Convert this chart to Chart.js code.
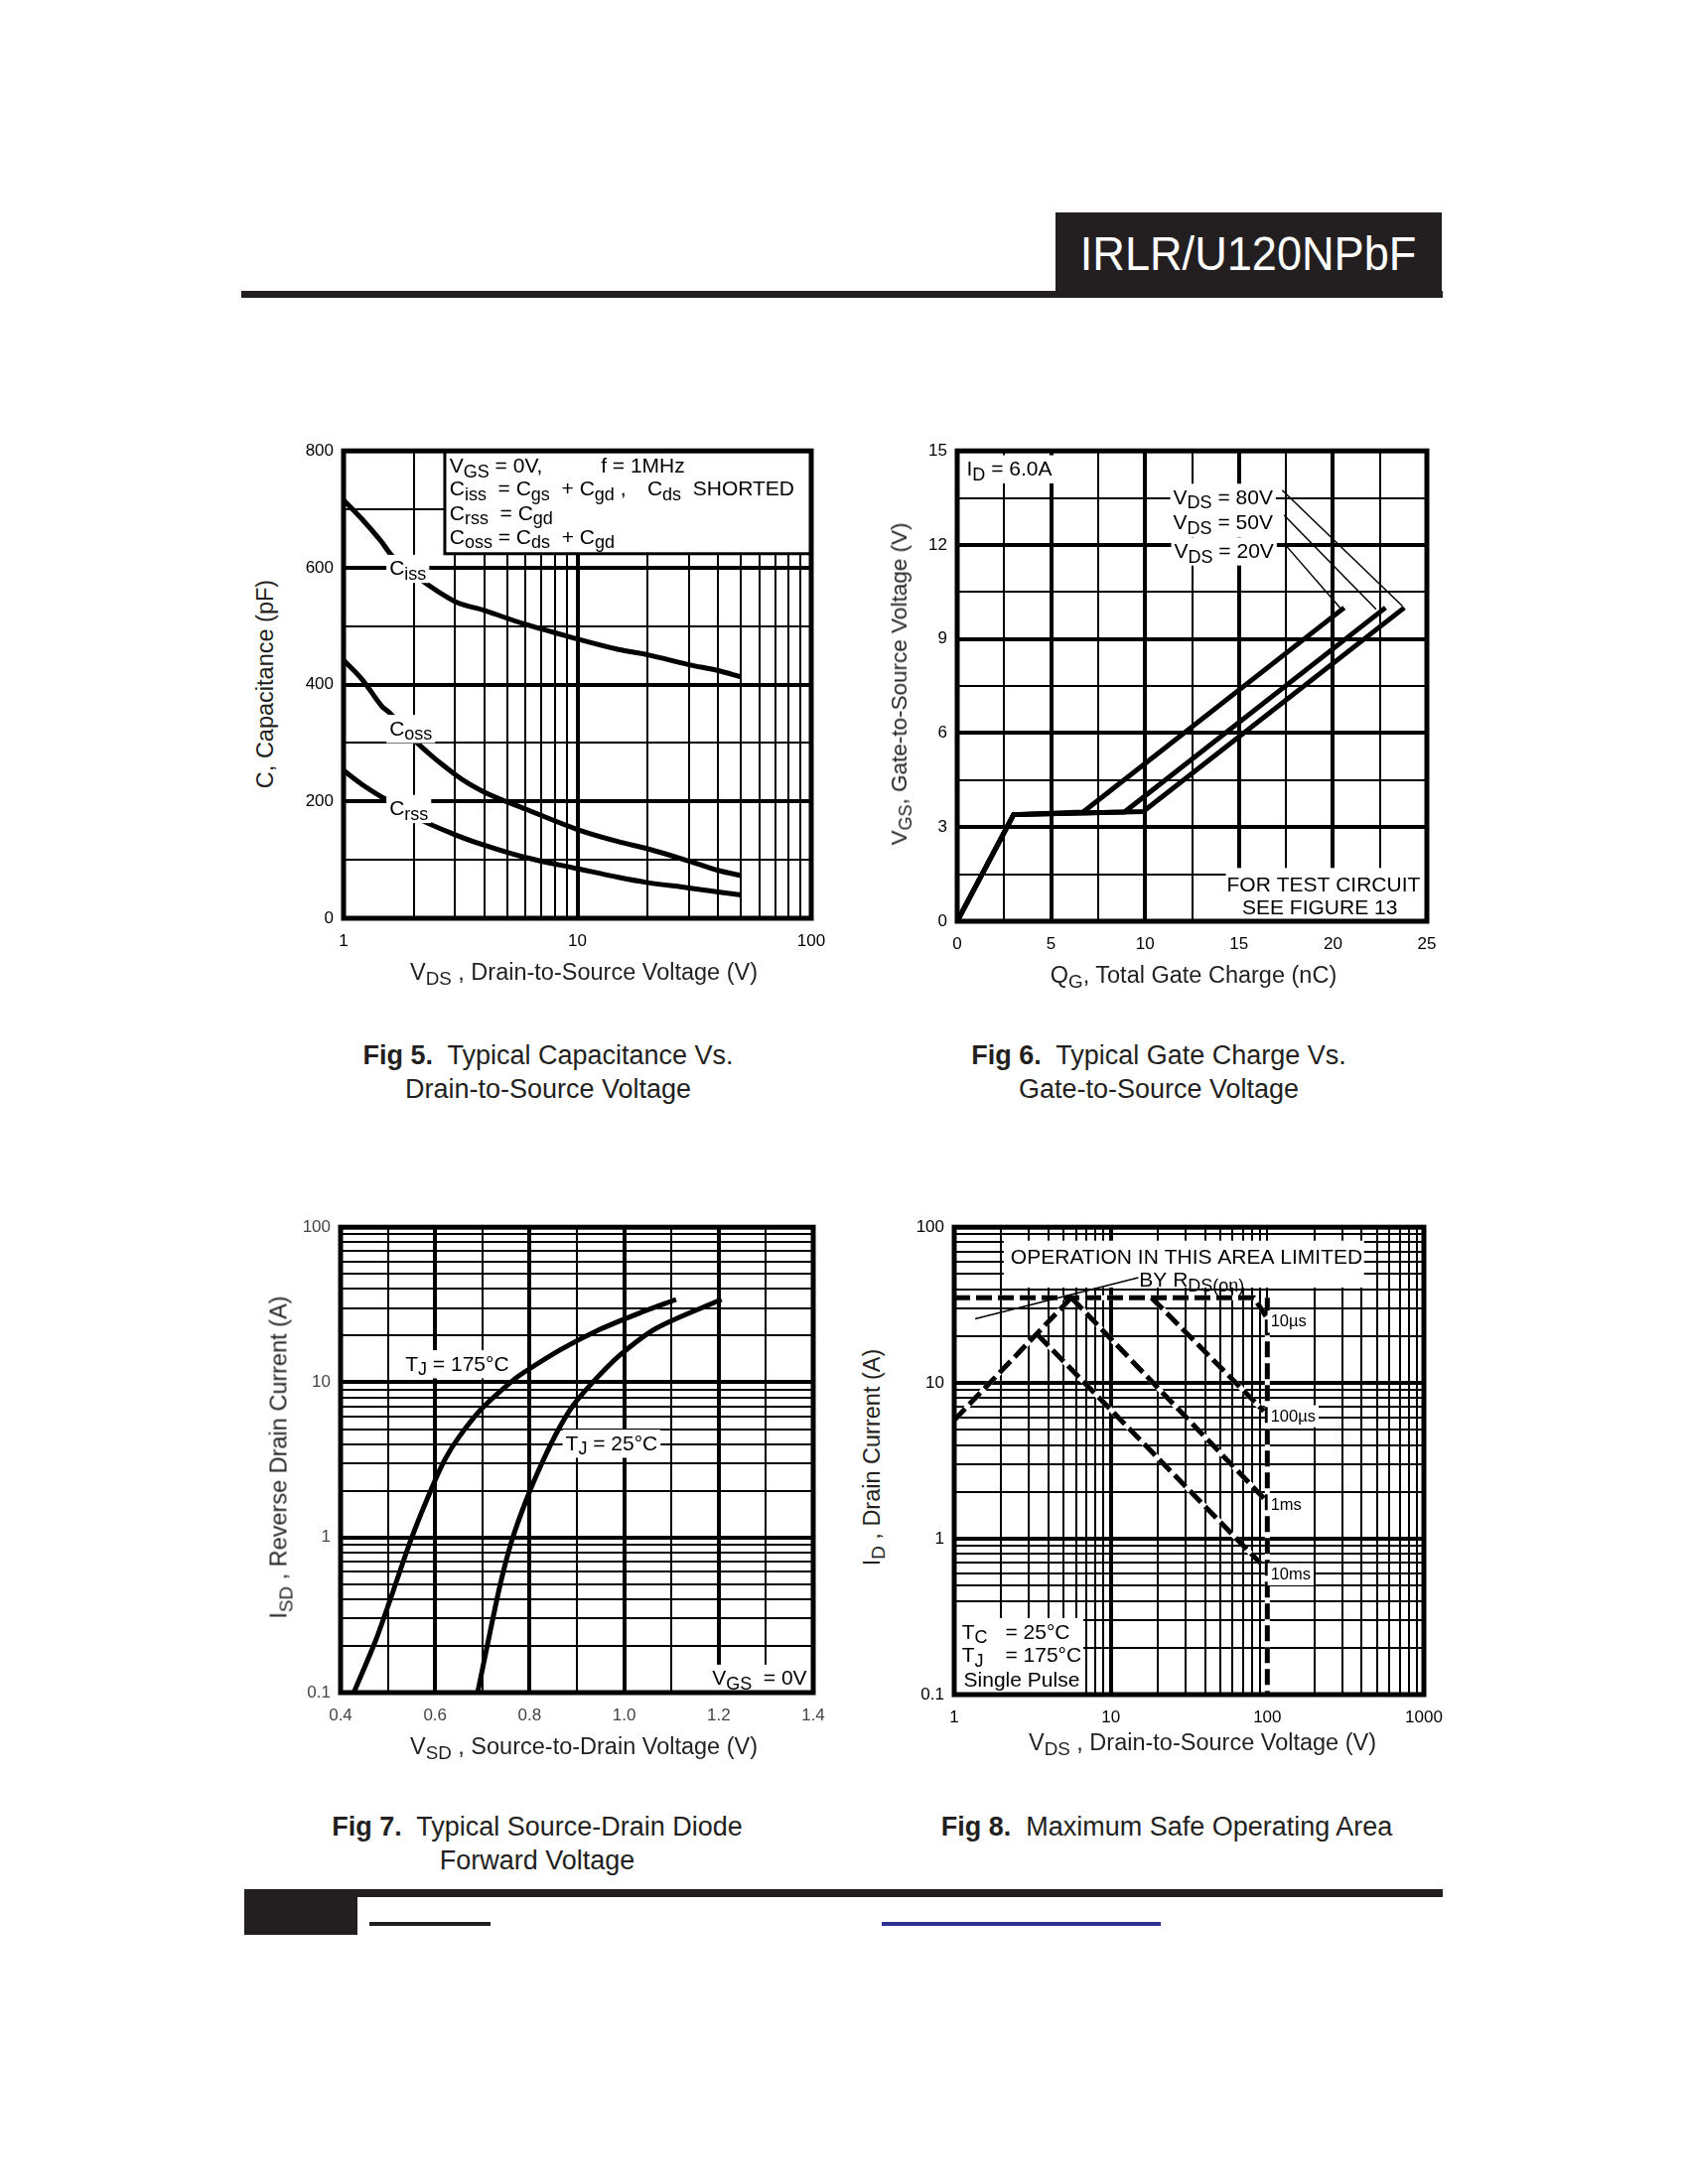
<!DOCTYPE html>
<html>
<head>
<meta charset="utf-8">
<script src="https://cdn.jsdelivr.net/npm/chart.js@4.4.1/dist/chart.umd.min.js"></script>
<style>
body { margin:0; width:1700px; height:2200px; background:#fff; position:relative; overflow:hidden;
       font-family:"Liberation Sans", Arial, sans-serif; color:#231f20; }
.abs { position:absolute; }
canvas { position:absolute; }
.cap { position:absolute; font-size:27px; line-height:34px; text-align:center; white-space:nowrap; transform:translateX(-50%); }
.ttl { position:absolute; font-size:23.5px; white-space:nowrap; transform:translate(-50%,-50%); }
.ttl.rot { transform:translate(-50%,-50%) rotate(-90deg); }
sub { font-size:80%; vertical-align:-0.3em; line-height:0; }
</style>
</head>
<body>

<div class="abs" style="left:1063px;top:214px;width:389px;height:83px;background:#231f20;color:#fff;
  font-size:48px;line-height:83px;text-align:center"><span style="display:inline-block;transform:scaleX(0.94)">IRLR/U120NPbF</span></div>
<div class="abs" style="left:243px;top:293px;width:1210px;height:7px;background:#231f20"></div>

<canvas id="fig5"></canvas>
<canvas id="fig6"></canvas>
<canvas id="fig7"></canvas>
<canvas id="fig8"></canvas>

<div class="ttl rot" style="left:267px;top:689px">C, Capacitance (pF)</div>
<div class="ttl" style="left:588px;top:979px">V<sub>DS</sub> , Drain-to-Source Voltage (V)</div>
<div class="ttl rot" style="left:906px;top:689px;font-size:22.5px">V<sub>GS</sub>, Gate-to-Source Voltage (V)</div>
<div class="ttl" style="left:1202px;top:982px">Q<sub>G</sub>, Total Gate Charge (nC)</div>
<div class="ttl rot" style="left:281px;top:1468px">I<sub>SD</sub> , Reverse Drain Current (A)</div>
<div class="ttl" style="left:588px;top:1759px">V<sub>SD</sub> , Source-to-Drain Voltage (V)</div>
<div class="ttl rot" style="left:878px;top:1468px">I<sub>D</sub> , Drain Current (A)</div>
<div class="ttl" style="left:1211px;top:1755px">V<sub>DS</sub> , Drain-to-Source Voltage (V)</div>

<div class="cap" style="left:552px;top:1046px"><b>Fig 5.</b>&nbsp; Typical Capacitance Vs.<br>Drain-to-Source Voltage</div>
<div class="cap" style="left:1167px;top:1046px"><b>Fig 6.</b>&nbsp; Typical Gate Charge Vs.<br>Gate-to-Source Voltage</div>
<div class="cap" style="left:541px;top:1823px"><b>Fig 7.</b>&nbsp; Typical Source-Drain Diode<br>Forward Voltage</div>
<div class="cap" style="left:1175px;top:1823px"><b>Fig 8.</b>&nbsp; Maximum Safe Operating Area</div>

<div class="abs" style="left:246px;top:1903px;width:1207px;height:8px;background:#231f20"></div>
<div class="abs" style="left:246px;top:1908px;width:114px;height:41px;background:#231f20"></div>
<div class="abs" style="left:372px;top:1936px;width:122px;height:4px;background:#231f20"></div>
<div class="abs" style="left:888px;top:1936px;width:281px;height:4px;background:#2e3192"></div>

<script>
const FONT = '"Liberation Sans", Arial, sans-serif'

// Fig 5: capacitance vs VDS
const capV = [1, 1.2, 1.45, 1.6, 2, 3, 4, 6, 10, 15, 20, 30, 40, 50]
const ciss = [716, 683, 645, 622, 588, 542, 527, 503, 478, 460, 451, 434, 424, 413]
const coss = [442, 409, 364, 349, 305, 246, 216, 187, 152, 131, 119, 98, 82, 73]
const crss = [253, 229, 208, 199, 174, 143, 125, 104, 85, 70, 61, 52, 45, 40]
const capXGrid = [1, 2, 3, 4, 5, 6, 7, 8, 9, 10, 20, 30, 40, 50, 60, 70, 80, 90, 100]
const capXLabels = ['1', '10', '100']
const capYGrid = [0, 100, 200, 300, 400, 500, 600, 700, 800]
const capYLabels = ['0', '200', '400', '600', '800']

// Fig 6: gate charge
const qg20 = [0, 3.0, 6.7, 20.6]
const vg20 = [0, 3.4, 3.48, 10]
const qg50 = [0, 3.0, 8.9, 22.8]
const vg50 = [0, 3.4, 3.48, 10]
const qg80 = [0, 3.0, 9.9, 23.8]
const vg80 = [0, 3.4, 3.5, 10]
const qgXGrid = [0, 2.5, 5, 7.5, 10, 12.5, 15, 17.5, 20, 22.5, 25]
const qgXLabels = ['0', '5', '10', '15', '20', '25']
const qgYGrid = [0, 1.5, 3, 4.5, 6, 7.5, 9, 10.5, 12, 13.5, 15]
const qgYLabels = ['0', '3', '6', '9', '12', '15']

// Fig 7: diode forward voltage
const vsd175 = [0.428, 0.473, 0.505, 0.549, 0.594, 0.622, 0.65, 0.698, 0.763, 0.795, 0.868, 0.948, 1.029, 1.11]
const isd175 = [0.1, 0.212, 0.397, 0.97, 2.12, 3.23, 4.42, 6.73, 10.2, 11.97, 16.4, 21.9, 27.7, 34.2]
const vsd25 = [0.69, 0.715, 0.739, 0.763, 0.795, 0.827, 0.86, 0.892, 0.936, 0.989, 1.069, 1.206]
const isd25 = [0.1, 0.235, 0.516, 0.97, 1.81, 3.06, 4.91, 7.1, 10.2, 14.8, 22.4, 34.2]
const vsdXGrid = [0.4, 0.5, 0.6, 0.7, 0.8, 0.9, 1.0, 1.1, 1.2, 1.3, 1.4]
const vsdXLabels = ['0.4', '0.6', '0.8', '1.0', '1.2', '1.4']
const logYGrid = [0.1, 0.2, 0.3, 0.4, 0.5, 0.6, 0.7, 0.8, 0.9, 1, 2, 3, 4, 5, 6, 7, 8, 9, 10, 20, 30, 40, 50, 60, 70, 80, 90, 100]
const logYLabels = ['0.1', '1', '10', '100']

// Fig 8: safe operating area
const limitX = [1, 82, 100]
const limitY = [35.3, 35.3, 26]
const rdsX = [1, 5.6]
const rdsY = [5.78, 35.3]
const us100X = [18.2, 95]
const us100Y = [35.3, 6.6]
const ms1X = [5.6, 95]
const ms1Y = [35.3, 1.82]
const ms10X = [3.4, 90]
const ms10Y = [20.5, 0.7]
const bvX = [100, 100]
const bvY = [35.3, 0.1]
const soaXGrid = [1, 2, 3, 4, 5, 6, 7, 8, 9, 10, 20, 30, 40, 50, 60, 70, 80, 90, 100, 200, 300, 400, 500, 600, 700, 800, 900, 1000]
const soaXLabels = ['1', '10', '100', '1000']

const pts = (xs, ys) => xs.map((x, i) => ({ x: x, y: ys[i] }))
const same = (a, b) => Math.abs(a - b) < 1e-6 * Math.max(1, Math.abs(b))

function richParts(s) {
    const out = []
    const re = /_\{([^}]*)\}/g
    let last = 0, m
    while ((m = re.exec(s))) {
        if (m.index > last) out.push([s.slice(last, m.index), 0])
        out.push([m[1], 1])
        last = re.lastIndex
    }
    if (last < s.length) out.push([s.slice(last), 0])
    return out
}

function drawRich(ctx, s, x, y, size, align, bg) {
    const parts = richParts(s)
    const sub = Math.round(size * 0.85)
    let w = 0
    parts.forEach(p => {
        ctx.font = (p[1] ? sub : size) + 'px ' + FONT
        w += ctx.measureText(p[0]).width
    })
    let x0 = align === 'center' ? x - w / 2 : align === 'right' ? x - w : x
    if (bg) {
        ctx.fillStyle = '#fff'
        ctx.fillRect(x0 - 3, y - size * 0.62, w + 6, size * 1.35)
    }
    ctx.fillStyle = '#000'
    ctx.textBaseline = 'alphabetic'
    ctx.textAlign = 'left'
    const base = y + size * 0.36
    parts.forEach(p => {
        ctx.font = (p[1] ? sub : size) + 'px ' + FONT
        ctx.fillText(p[0], x0, base + (p[1] ? size * 0.22 : 0))
        x0 += ctx.measureText(p[0]).width
    })
}

const notesPlugin = {
    id: 'notes',
    afterDatasetsDraw(chart, args, opts) {
        const ctx = chart.ctx
        const px = v => chart.scales.x.getPixelForValue(v)
        const py = v => chart.scales.y.getPixelForValue(v)
        ctx.save()
        const items = opts.items || []
        for (let i = 0; i < items.length; i++) {
            const n = items[i]
            if (n.kind === 'rect') {
                const x0 = px(n.x0), x1 = px(n.x1), y0 = py(n.y0), y1 = py(n.y1)
                ctx.fillStyle = '#fff'
                ctx.fillRect(Math.min(x0, x1), Math.min(y0, y1), Math.abs(x1 - x0), Math.abs(y1 - y0))
                if (n.stroke) {
                    ctx.lineWidth = n.stroke
                    ctx.strokeStyle = '#000'
                    ctx.strokeRect(Math.min(x0, x1), Math.min(y0, y1), Math.abs(x1 - x0), Math.abs(y1 - y0))
                }
            } else if (n.kind === 'line') {
                ctx.lineWidth = n.w || 1.5
                ctx.strokeStyle = '#000'
                ctx.beginPath()
                ctx.moveTo(px(n.x0), py(n.y0))
                ctx.lineTo(px(n.x1), py(n.y1))
                ctx.stroke()
            } else {
                drawRich(ctx, n.text, px(n.x), py(n.y), n.size || 21, n.align || 'left', n.bg)
            }
        }
        const a = chart.chartArea
        ctx.lineWidth = 5
        ctx.strokeStyle = '#000'
        ctx.strokeRect(a.left, a.top, a.right - a.left, a.bottom - a.top)
        ctx.restore()
    }
}

function axis(type, min, max, grid, labels, thick, pos, color) {
    return {
        type: type, min: min, max: max, position: pos,
        afterBuildTicks: s => { s.ticks = grid.map(v => ({ value: v })) },
        afterFit: s => { if (pos === 'left') s.width = 60; else s.height = 45 },
        ticks: {
            autoSkip: false, maxRotation: 0, padding: pos === 'left' ? 10 : 13, color: color || '#000',
            font: { family: FONT, size: 17 },
            callback: v => {
                const k = labels.findIndex(l => same(parseFloat(l), v))
                return k >= 0 ? labels[k] : ''
            }
        },
        grid: {
            color: '#000', drawTicks: false,
            lineWidth: c => thick.some(t => same(t, c.tick.value)) ? 4 : 2
        },
        border: { display: false }
    }
}

function line(xs, ys, extra) {
    return Object.assign({
        data: pts(xs, ys), showLine: true, borderColor: '#000', borderWidth: 5,
        pointRadius: 0, fill: false, tension: 0, borderCapStyle: 'butt'
    }, extra || {})
}

// black dashes over a white underlay (order: lower draws on top)
function dashed(xs, ys) {
    return [
        line(xs, ys, { borderDash: [16, 6], order: 0 }),
        line(xs, ys, { borderColor: '#fff', borderWidth: 5, order: 1 })
    ]
}

function makeChart(id, box, xAx, yAx, datasets, items) {
    const cv = document.getElementById(id)
    cv.width = (box[2] - box[0]) + 100
    cv.height = (box[3] - box[1]) + 70
    const chart = new Chart(cv, {
        type: 'scatter',
        data: { datasets: datasets },
        options: {
            responsive: false, animation: false, devicePixelRatio: 1,
            layout: { padding: { left: 0, right: 40, top: 20, bottom: 5 } },
            scales: { x: xAx, y: yAx },
            plugins: { legend: { display: false }, tooltip: { enabled: false }, notes: { items: items } }
        },
        plugins: [notesPlugin]
    })
    const a = chart.chartArea
    cv.style.left = (box[0] - a.left) + 'px'
    cv.style.top = (box[1] - a.top) + 'px'
    return chart
}

// Fig 5
makeChart('fig5', [346, 454, 817, 925],
    axis('logarithmic', 1, 100, capXGrid, capXLabels, [10], 'bottom'),
    axis('linear', 0, 800, capYGrid, capYLabels, [200, 400, 600], 'left'),
    [line(capV, ciss, { tension: 0.35 }), line(capV, coss, { tension: 0.35 }), line(capV, crss, { tension: 0.35 })],
    [
        { kind: 'rect', x0: 2.71, y0: 624, x1: 100, y1: 800, stroke: 3 },
        { text: 'V_{GS} = 0V,', x: 2.84, y: 776 },
        { text: 'f = 1MHz', x: 12.6, y: 776 },
        { text: 'C_{iss}  = C_{gs}  + C_{gd} ,', x: 2.84, y: 736 },
        { text: 'C_{ds}  SHORTED', x: 19.9, y: 736 },
        { text: 'C_{rss}  = C_{gd}', x: 2.84, y: 695 },
        { text: 'C_{oss} = C_{ds}  + C_{gd}', x: 2.84, y: 654 },
        { text: 'C_{iss}', x: 1.57, y: 600, bg: true },
        { text: 'C_{oss}', x: 1.57, y: 326, bg: true },
        { text: 'C_{rss}', x: 1.57, y: 189, bg: true }
    ])

// Fig 6
makeChart('fig6', [964, 454, 1437, 928],
    axis('linear', 0, 25, qgXGrid, qgXLabels, [5, 10, 15, 20], 'bottom'),
    axis('linear', 0, 15, qgYGrid, qgYLabels, [3, 6, 9, 12], 'left'),
    [line(qg20, vg20), line(qg50, vg50), line(qg80, vg80)],
    [
        { text: 'I_{D} = 6.0A', x: 0.5, y: 14.45, bg: true },
        { text: 'V_{DS} = 80V', x: 11.5, y: 13.54, bg: true },
        { text: 'V_{DS} = 50V', x: 11.5, y: 12.74, bg: true },
        { text: 'V_{DS} = 20V', x: 11.55, y: 11.83, bg: true },
        { kind: 'line', x0: 17.3, y0: 13.75, x1: 23.7, y1: 10.05 },
        { kind: 'line', x0: 17.4, y0: 12.95, x1: 22.3, y1: 9.95 },
        { kind: 'line', x0: 17.4, y0: 12.05, x1: 20.45, y1: 9.95 },
        { kind: 'rect', x0: 14.3, y0: 0, x1: 25, y1: 1.7 },
        { text: 'FOR TEST CIRCUIT', x: 19.5, y: 1.2, align: 'center' },
        { text: 'SEE FIGURE 13', x: 19.3, y: 0.46, align: 'center' }
    ])

// Fig 7
makeChart('fig7', [343, 1236, 819, 1705],
    axis('linear', 0.4, 1.4, vsdXGrid, vsdXLabels, [0.6, 0.8, 1.0, 1.2], 'bottom', '#444'),
    axis('logarithmic', 0.1, 100, logYGrid, logYLabels, [1, 10], 'left', '#444'),
    [line(vsd175, isd175, { tension: 0.3 }), line(vsd25, isd25, { tension: 0.3 })],
    [
        { text: 'T_{J} = 175°C', x: 0.537, y: 13.3, bg: true },
        { text: 'T_{J} = 25°C', x: 0.876, y: 4.09, bg: true },
        { text: 'V_{GS}  = 0V', x: 1.186, y: 0.125, bg: true }
    ])

// Fig 8
makeChart('fig8', [961, 1236, 1434, 1707],
    axis('logarithmic', 1, 1000, soaXGrid, soaXLabels, [10], 'bottom'),
    axis('logarithmic', 0.1, 100, logYGrid, logYLabels, [1, 10], 'left'),
    [].concat(
        dashed(limitX, limitY), dashed(rdsX, rdsY), dashed(us100X, us100Y),
        dashed(ms1X, ms1Y), dashed(ms10X, ms10Y), dashed(bvX, bvY)
    ),
    [
        { kind: 'rect', x0: 2.07, y0: 41, x1: 415, y1: 82 },
        { text: 'OPERATION IN THIS AREA LIMITED', x: 30.5, y: 64.7, align: 'center' },
        { text: 'BY R_{DS(on)}', x: 15.2, y: 46.5 },
        { kind: 'line', x0: 15.0, y0: 47.5, x1: 1.36, y1: 25.8 },
        { kind: 'rect', x0: 1, y0: 0.1, x1: 6.67, y1: 0.31 },
        { text: 'T_{C}', x: 1.12, y: 0.255 },
        { text: '= 25°C', x: 2.12, y: 0.255 },
        { text: 'T_{J}', x: 1.12, y: 0.181 },
        { text: '= 175°C', x: 2.12, y: 0.181 },
        { text: 'Single Pulse', x: 1.15, y: 0.125 },
        { text: '10µs', x: 105, y: 25.1, size: 16.5, bg: true },
        { text: '100µs', x: 105, y: 6.2, size: 16.5, bg: true },
        { text: '1ms', x: 105, y: 1.68, size: 16.5, bg: true },
        { text: '10ms', x: 105, y: 0.6, size: 16.5, bg: true }
    ])
</script>
</body>
</html>
